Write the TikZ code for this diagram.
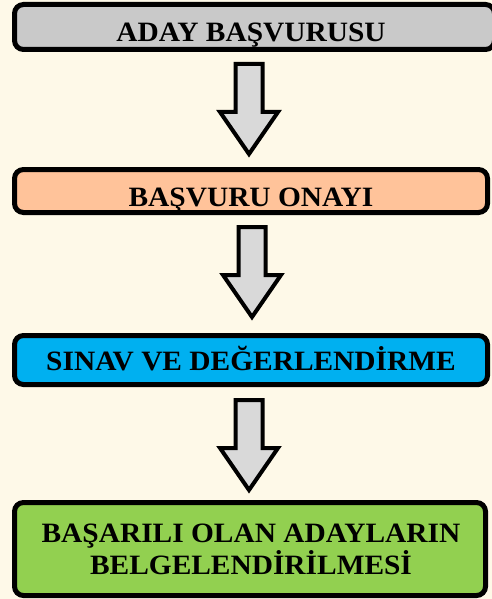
\documentclass[tikz,border=0pt]{standalone}
\usepackage{fontspec}
\setmainfont{Liberation Serif}[FakeStretch=1.05]
\definecolor{bgc}{HTML}{FEF9E8}
\definecolor{c1}{HTML}{C9C9C9}
\definecolor{c2}{HTML}{FFC39A}
\definecolor{c3}{HTML}{00B0F0}
\definecolor{c4}{HTML}{92D050}
\definecolor{arrowfill}{HTML}{D9D9D9}
\begin{document}
\begin{tikzpicture}[x=1pt,y=-1pt,
  box/.style={draw=black,line width=5pt,rounded corners=9pt,inner sep=0pt},
  lbl/.style={font=\fontsize{28}{32}\selectfont\bfseries,align=center,inner sep=0pt,anchor=base},
  bigarrow/.pic={\draw[line width=4pt,fill=arrowfill,miter limit=10]
     (-13.5,2) -- (13.5,2) -- (13.5,50) -- (29,50) -- (0,92) -- (-29,50) -- (-13.5,50) -- cycle;}]
\useasboundingbox (0,0) rectangle (492,599);
\fill[bgc] (0,0) rectangle (492,599);
% boxes
\node[box,fill=c1,minimum width=480pt,minimum height=45pt] (b1) at (254.5,27) {};
\node[box,fill=c2,minimum width=473pt,minimum height=43pt] (b2) at (251,191) {};
\node[box,fill=c3,minimum width=473pt,minimum height=49pt] (b3) at (251,360) {};
\node[box,fill=c4,minimum width=471pt,minimum height=93pt] (b4) at (250,549) {};
% texts
\node[lbl] (t1) at (251,42) {ADAY BAŞVURUSU};
\node[lbl] (t2) at (251,206) {BAŞVURU ONAYI};
\node[lbl] (t3) at (251,370) {SINAV VE DEĞERLENDİRME};
\node[lbl] (t4a) at (251,542) {BAŞARILI OLAN ADAYLARIN};
\node[lbl] (t4b) at (251,574) {BELGELENDİRİLMESİ};
% arrows
\pic at (249,62) {bigarrow};
\pic at (252,225) {bigarrow};
\pic at (249,398) {bigarrow};
\end{tikzpicture}
\end{document}
